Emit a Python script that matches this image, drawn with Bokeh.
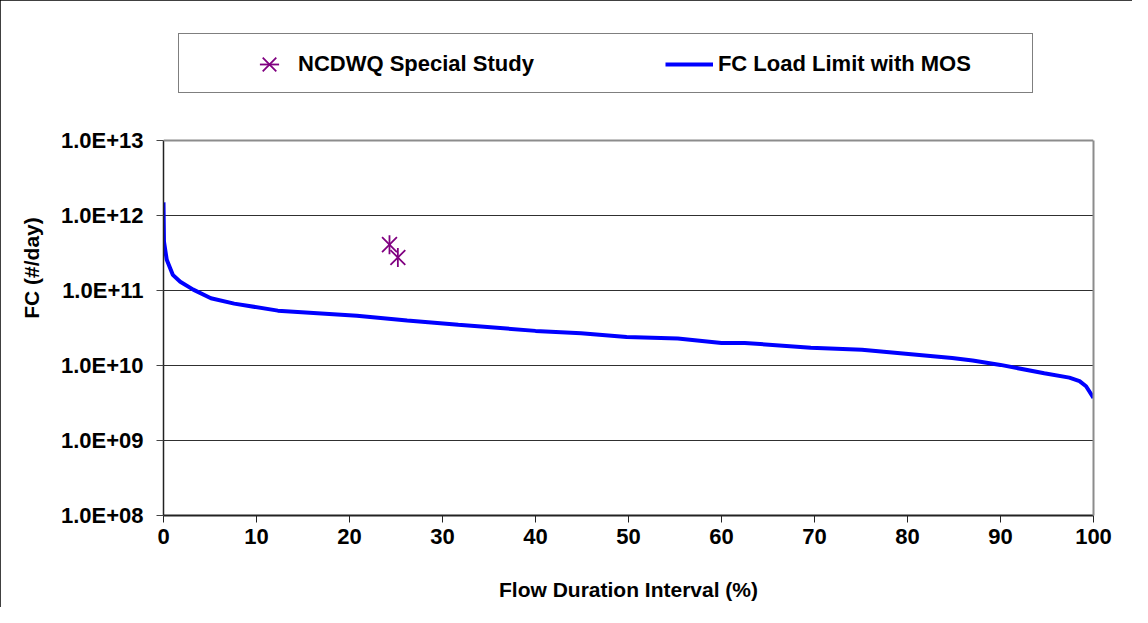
import math
from bokeh.plotting import figure
from bokeh.models import (Range1d, FixedTicker, CustomJSTickFormatter, Legend,
                          LegendItem, LogAxis, Span)
from bokeh.embed import file_html
from bokeh.resources import INLINE

# ---- data ----
flow_pct = [0.0, 0.05, 0.35, 1.0, 1.8, 3.2, 5.1, 7.6, 12.3, 20.8, 26.2, 31.7,
            40.0, 44.9, 49.8, 55.3, 60.0, 62.5, 69.6, 75.1, 84.8, 87.0, 90.0,
            94.7, 97.4, 98.5, 99.2, 100.0]
fc_limit = [1.5e12, 4.5e11, 2.57e11, 1.62e11, 1.31e11, 1.03e11, 7.9e10, 6.7e10,
            5.4e10, 4.6e10, 4.0e10, 3.5e10, 2.9e10, 2.7e10, 2.4e10, 2.3e10,
            2.0e10, 2.0e10, 1.73e10, 1.63e10, 1.26e10, 1.17e10, 1.02e10,
            7.9e9, 6.9e9, 6.2e9, 5.3e9, 3.7e9]
study_pct = [24.3, 25.2]
study_fc = [4.1e11, 2.76e11]
x_ticks = [0, 10, 20, 30, 40, 50, 60, 70, 80, 90, 100]
y_ticks = [1e8, 1e9, 1e10, 1e11, 1e12, 1e13]
series_names = ["NCDWQ Special Study", "FC Load Limit with MOS"]
x_title = "Flow Duration Interval (%)"
y_title = "FC (#/day)"

FONT = "Liberation Sans"

# ---- layout (pixels) ----
W, H = 1132, 607
FRAME_LEFT, FRAME_RIGHT = 163, 1093
AXIS_TOP, FRAME_BOTTOM = 140, 514.5   # 1e13 line and 1e8 line (canvas px)
FRAME_TOP = 20                        # frame extends above plot area for legend
y_lo, y_hi = y_ticks[0], y_ticks[-1]
px_per_decade = (FRAME_BOTTOM - AXIS_TOP) / (math.log10(y_hi) - math.log10(y_lo))
y_top = 10 ** (math.log10(y_hi) + (AXIS_TOP - FRAME_TOP) / px_per_decade)

p = figure(width=W, height=H, y_axis_type="log",
           x_range=Range1d(x_ticks[0], x_ticks[-1]), y_range=Range1d(y_lo, y_top),
           output_backend="svg", toolbar_location=None,
           min_border_left=FRAME_LEFT, min_border_right=W - FRAME_RIGHT,
           min_border_top=FRAME_TOP, min_border_bottom=int(round(H - FRAME_BOTTOM)))
p.styles = {"outline": "1px solid #000000", "outline-offset": "-1px"}

p.background_fill_color = "white"
p.border_fill_color = "white"
p.outline_line_color = None

# grid
p.xgrid.visible = False
p.ygrid.ticker = FixedTicker(ticks=y_ticks[1:-1])
p.ygrid.grid_line_color = "#303030"
p.ygrid.grid_line_width = 1

# plot-area top and right border
p.add_layout(Span(location=y_hi, dimension="width", line_color="#8c8c8c", line_width=2))
right_ax = LogAxis(bounds=(y_lo, y_hi), ticker=FixedTicker(ticks=[]),
                   major_tick_out=0, major_tick_in=0, minor_tick_out=0,
                   major_label_text_font_size="0px",
                   axis_line_color="#8c8c8c", axis_line_width=2)
p.add_layout(right_ax, "right")

# x axis
xa = p.xaxis[0]
xa.ticker = FixedTicker(ticks=x_ticks)
xa.axis_label = x_title
xa.axis_line_color = "#222222"
xa.axis_line_width = 2
xa.major_tick_out = 7
xa.major_tick_in = 0
xa.major_tick_line_color = "#222222"
xa.minor_tick_line_color = None
xa.major_label_standoff = 6
xa.major_label_text_font = FONT
xa.major_label_text_font_style = "bold"
xa.major_label_text_font_size = "22px"
xa.major_label_text_color = "black"
xa.axis_label_text_font = FONT
xa.axis_label_text_font_style = "bold"
xa.axis_label_text_font_size = "21px"
xa.axis_label_text_color = "black"
xa.axis_label_standoff = 31

# y axis
ya = p.yaxis[0]
ya.bounds = (y_lo, y_hi)
ya.ticker = FixedTicker(ticks=y_ticks)
ya.formatter = CustomJSTickFormatter(code="""
    let s = tick.toExponential(1).toUpperCase();
    s = s.replace(/E([+-])(\\d)$/, 'E$10$2');
    return s;
""")
ya.axis_label = y_title
ya.axis_line_color = "#222222"
ya.axis_line_width = 1.5
ya.major_tick_out = 7
ya.major_tick_in = 0
ya.major_tick_line_color = "#444444"
ya.minor_tick_line_color = None
ya.major_label_standoff = 13
ya.major_label_text_font = FONT
ya.major_label_text_font_style = "bold"
ya.major_label_text_font_size = "22px"
ya.major_label_text_color = "black"
ya.axis_label_text_font = FONT
ya.axis_label_text_font_style = "bold"
ya.axis_label_text_font_size = "21px"
ya.axis_label_text_color = "black"
ya.axis_label_standoff = 15

# series
line_r = p.line(flow_pct, fc_limit, line_color="#0000ff", line_width=4)
star_x = p.scatter(study_pct, study_fc, marker="x", size=21,
                   line_color="#800080", line_width=1.8)
star_v = p.scatter(study_pct, study_fc, marker="dash", angle=math.pi / 2,
                   size=19, line_color="#800080", line_width=1.8)

# legend frame (box only)
dummy = p.line(x=[], y=[], line_alpha=0)
box = Legend(items=[LegendItem(label="", renderers=[dummy])],
             location=(15, 422), orientation="horizontal",
             padding=0, margin=0, spacing=0, label_standoff=0,
             glyph_width=833, glyph_height=58,
             border_line_color="black", border_line_width=1,
             background_fill_color="white", background_fill_alpha=1,
             label_text_font_size="1px")
p.add_layout(box, "center")

legend = Legend(items=[LegendItem(label=series_names[0], renderers=[star_x, star_v]),
                       LegendItem(label=series_names[1], renderers=[line_r])],
                location=(82, 427), orientation="horizontal",
                padding=0, margin=0, spacing=131, label_standoff=5,
                glyph_width=48, glyph_height=48,
                border_line_alpha=0, background_fill_alpha=0,
                label_text_font=FONT, label_text_font_style="bold",
                label_text_font_size="22px", label_text_color="black")
p.add_layout(legend, "center")

open("out.html", "w").write(file_html(p, INLINE))
